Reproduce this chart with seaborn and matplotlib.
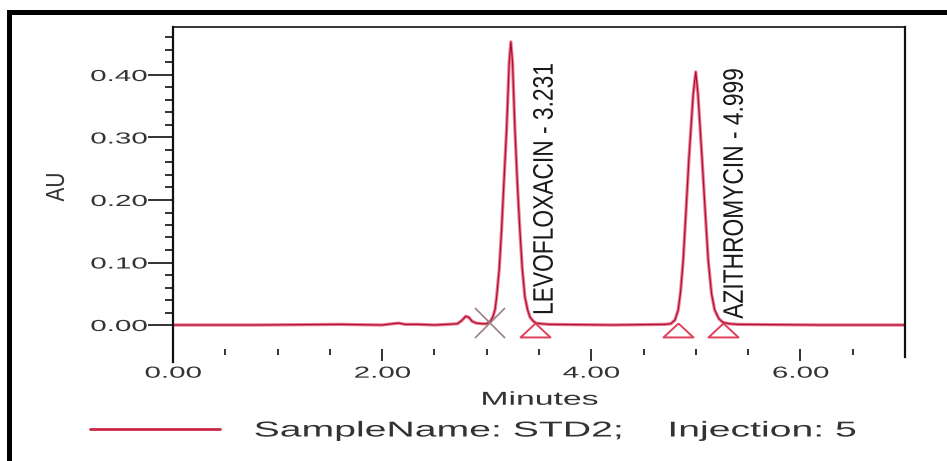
import matplotlib
matplotlib.use("Agg")
import matplotlib.pyplot as plt
import pandas as pd
import seaborn as sns
from matplotlib.patheffects import AbstractPathEffect
from matplotlib.transforms import Affine2D
from matplotlib.patches import Rectangle
from matplotlib.ticker import FixedLocator

# ---- chromatogram trace (retention time in minutes, absorbance in AU) ----
time_min = [0.00, 0.80, 1.60, 2.00, 2.10, 2.16, 2.22, 2.35, 2.50, 2.62, 2.72, 2.76, 2.80, 2.83,
            2.86, 2.90, 2.96, 3.00, 3.035, 3.059, 3.08, 3.095, 3.12, 3.142, 3.165, 3.19, 3.215,
            3.231, 3.247, 3.27, 3.295, 3.317, 3.34, 3.365, 3.39, 3.413, 3.44, 3.47, 3.52,
            3.60, 4.20, 4.70, 4.76, 4.80, 4.831, 4.855, 4.879, 4.905, 4.933, 4.975, 4.999,
            5.02, 5.06, 5.09, 5.118, 5.15, 5.18, 5.22, 5.26, 5.32, 5.40, 6.20, 7.00]
absorbance = [0.000, 0.000, 0.001, 0.000, 0.002, 0.003, 0.001, 0.001, 0.000, 0.001, 0.002, 0.007,
              0.014, 0.012, 0.006, 0.003, 0.002, 0.002, 0.006, 0.013, 0.025, 0.045, 0.090, 0.152,
              0.230, 0.312, 0.420, 0.453, 0.420, 0.312, 0.220, 0.152, 0.090, 0.045, 0.025, 0.013,
              0.007, 0.003, 0.002, 0.001, 0.000, 0.001, 0.002, 0.008, 0.024, 0.055, 0.104, 0.180,
              0.264, 0.370, 0.405, 0.370, 0.264, 0.180, 0.104, 0.050, 0.024, 0.010, 0.004, 0.002,
              0.001, 0.000, 0.000]

# ---- integrated peaks ----
peak_names = ["LEVOFLOXACIN", "AZITHROMYCIN"]
peak_rt = [3.231, 4.999]

# ---- integration events ----
start_cross_t = [3.03]
start_cross_au = [0.004]
event_t = [3.464, 4.833, 5.258]
event_au = [0.003, 0.003, 0.003]

# ---- axis ticks ----
x_major = [0, 2, 4, 6]
x_labels = ["0.00", "2.00", "4.00", "6.00"]
x_minor = [0.5, 1.0, 1.5, 2.5, 3.0, 3.5, 4.5, 5.0, 5.5, 6.5]
y_major = [0.0, 0.1, 0.2, 0.3, 0.4]
y_labels = ["0.00", "0.10", "0.20", "0.30", "0.40"]
y_minor = [0.02, 0.04, 0.06, 0.08, 0.12, 0.14, 0.16, 0.18, 0.22, 0.24, 0.26, 0.28,
           0.32, 0.34, 0.36, 0.38, 0.42, 0.44, 0.46]

legend_label = "SampleName: STD2;    Injection: 5"


class Scale(AbstractPathEffect):
    """Draw text glyphs scaled in screen x / y about a chosen reference point."""

    def __init__(self, sx=1.0, sy=1.0, anchor="center"):
        super().__init__()
        self.sx = sx
        self.sy = sy
        self.anchor = anchor

    def draw_path(self, renderer, gc, tpath, affine, rgbFace=None):
        verts = affine.transform(tpath.vertices)
        ox, oy = affine.transform([[0.0, 0.0]])[0]
        if self.anchor == "origin" or not len(verts):
            cx, cy = ox, oy
        else:
            x0, x1 = verts[:, 0].min(), verts[:, 0].max()
            cx = {"left": x0, "right": x1}.get(self.anchor, 0.5 * (x0 + x1))
            cy = oy
        stretch = (Affine2D().translate(-cx, -cy).scale(self.sx, self.sy)
                   .translate(cx, cy))
        renderer.draw_path(gc, tpath, affine + stretch, rgbFace)


sns.set_style("white")
plt.rcParams["font.family"] = ["Liberation Sans", "DejaVu Sans"]

W, H, DPI = 947, 461, 100
fig = plt.figure(figsize=(W / DPI, H / DPI), dpi=DPI)
ax = fig.add_axes([173 / W, 1 - 349 / H, (905 - 173) / W, (349 - 27) / H])

df = pd.DataFrame({"Minutes": time_min, "AU": absorbance})
sns.lineplot(data=df, x="Minutes", y="AU", ax=ax, color="#f27e96", lw=2.4,
             estimator=None, sort=False, solid_joinstyle="round")
sns.lineplot(data=df, x="Minutes", y="AU", ax=ax, color="#a81232", lw=0.9,
             estimator=None, sort=False, label=legend_label)

# peak start / end markers
tri = [(0, 0), (-1, -0.93), (1, -0.93), (0, 0)]
ax.plot(event_t, event_au, ls="none", marker=tri, ms=21.6, mfc="none",
        mec="#e0405a", mew=1.4, clip_on=False)
ax.plot(start_cross_t, start_cross_au, ls="none", marker="x", ms=21, mew=1.2,
        color="#9a7f82", clip_on=False)

# peak labels (narrow, tall lettering)
for name, rt, dx, base in zip(peak_names, peak_rt, [0.40, 0.45], [0.016, 0.010]):
    lab = ax.text(rt + dx, base, f"{name} - {rt:.3f}", rotation=90,
                  rotation_mode="anchor", ha="left", va="baseline", fontsize=16.4,
                  color="#1a1a1a")
    lab.set_path_effects([Scale(1.24, 1.0, "origin")])

ax.set_xlim(0, 7)
ax.set_ylim(-0.0384, 0.4768)

ax.set_xticks(x_major)
xt = ax.set_xticklabels(x_labels)
ax.xaxis.set_minor_locator(FixedLocator(x_minor))
ax.set_yticks(y_major)
yt = ax.set_yticklabels(y_labels)
ax.yaxis.set_minor_locator(FixedLocator(y_minor))

ax.tick_params(axis="x", which="both", bottom=True, top=False, direction="out",
               color="#222222", width=1.3, labelsize=11.5, labelcolor="#333333", pad=3.5)
ax.tick_params(axis="x", which="major", length=8.5)
ax.tick_params(axis="x", which="minor", length=4.5)
ax.tick_params(axis="y", which="both", left=True, right=False, direction="out",
               color="#222222", width=1.3, labelsize=11.5, labelcolor="#333333", pad=0.5)
ax.tick_params(axis="y", which="major", length=18)
ax.tick_params(axis="y", which="minor", length=5.5)

for t in xt:
    t.set_path_effects([Scale(1.85, 1.0, "center")])
for t in yt:
    t.set_path_effects([Scale(1.85, 1.0, "right")])

ax.spines["bottom"].set_visible(False)
for side in ("left", "right", "top"):
    ax.spines[side].set_color("#111111")
ax.spines["left"].set_linewidth(1.6)
ax.spines["right"].set_linewidth(1.6)
ax.spines["top"].set_linewidth(1.2)
ax.spines["left"].set_bounds(-0.0592, 0.4768)
ax.spines["right"].set_bounds(-0.0512, 0.4768)

ax.set_xlabel("Minutes", fontsize=13.5, labelpad=8, color="#333333")
ax.xaxis.label.set_path_effects([Scale(1.8, 1.0, "center")])
ax.set_ylabel("AU", fontsize=15, color="#333333")
ax.yaxis.label.set_path_effects([Scale(1.25, 1.0, "center")])
ax.yaxis.set_label_coords(-0.146, 0.503)

leg = ax.legend(loc="center left", bbox_to_anchor=(90 / W, 1 - 431 / H),
                bbox_transform=fig.transFigure, frameon=False, fontsize=15.5,
                handlelength=6.05, handletextpad=1.55, borderpad=0, borderaxespad=0)
for ln in leg.get_lines():
    ln.set_linewidth(2.0)
    ln.set_color("#cc2648")
for t in leg.get_texts():
    t.set_color("#333333")
    t.set_path_effects([Scale(1.82, 1.0, "left")])

# outer frame of the report panel
fig.add_artist(Rectangle((9.2 / W, -0.5), 2.0, (1 - 12 / H) + 0.5, transform=fig.transFigure,
                         fill=False, lw=3.6, ec="black", clip_on=False))

fig.savefig("out.png", dpi=DPI)
